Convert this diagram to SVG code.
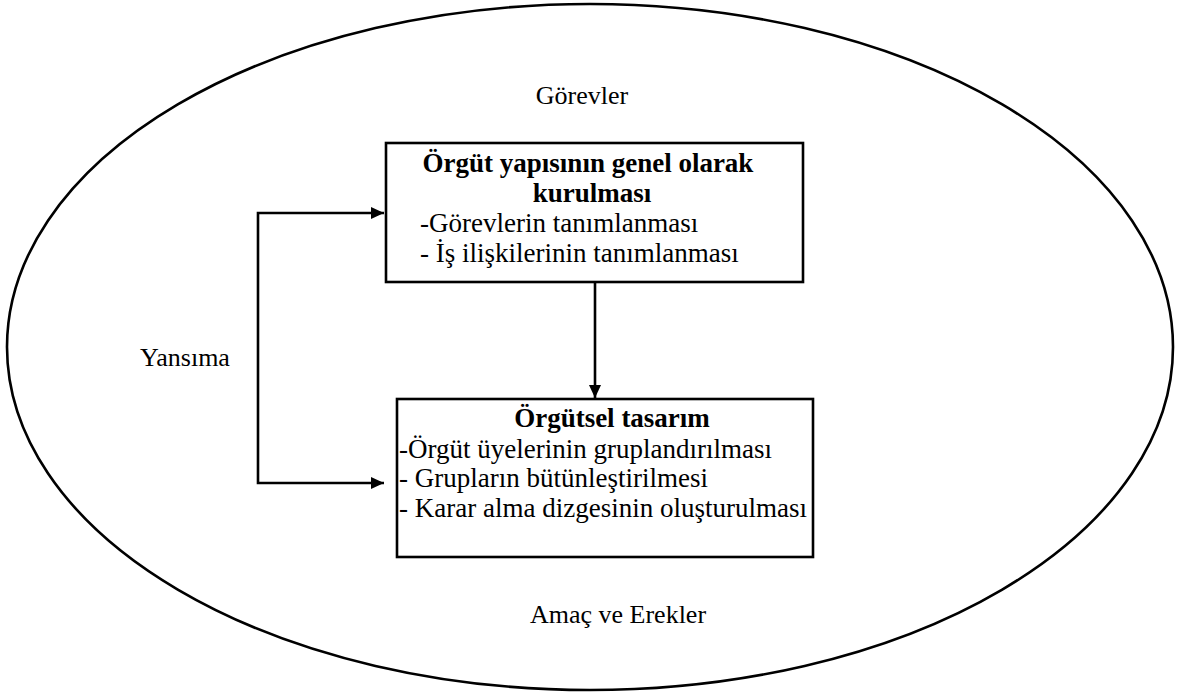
<svg xmlns="http://www.w3.org/2000/svg" width="1190" height="692" viewBox="0 0 1190 692">
  <style>
    .outline { fill: none; stroke: #000; stroke-width: 2.6; }
    .box { fill: #fff; stroke: #000; stroke-width: 2.6; }
    .conn { fill: none; stroke: #000; stroke-width: 2.6; }
    text { font-family: "Liberation Serif", "Times New Roman", serif; fill: #000; }
    .label { font-size: 26px; }
    .body { font-size: 27px; }
    .title { font-size: 27px; font-weight: bold; }
  </style>
  <defs>
    <marker id="arrow" markerUnits="userSpaceOnUse" markerWidth="14" markerHeight="12" refX="13" refY="6" orient="auto-start-reverse">
      <path d="M0,0 L13,6 L0,12 Z" fill="#000"/>
    </marker>
  </defs>

  <rect width="1190" height="692" fill="#fff"/>

  <!-- surrounding environment -->
  <g id="environment">
    <ellipse class="outline" cx="590" cy="347" rx="583" ry="343"/>
    <text class="label" x="582" y="104" text-anchor="middle">Görevler</text>
    <text class="label" x="618" y="623" text-anchor="middle">Amaç ve Erekler</text>
    <text class="label" x="185" y="366" text-anchor="middle">Yansıma</text>
  </g>

  <!-- connectors -->
  <g id="connectors">
    <path class="conn" d="M384,213 H258 V483 H384" marker-start="url(#arrow)" marker-end="url(#arrow)"/>
    <path class="conn" d="M595,282 V398" marker-end="url(#arrow)"/>
  </g>

  <!-- node: overall structure setup -->
  <g id="node-structure">
    <rect class="box" x="386" y="143" width="417" height="139"/>
    <text class="title" x="588" y="172" text-anchor="middle">Örgüt yapısının genel olarak</text>
    <text class="title" x="592" y="202" text-anchor="middle">kurulması</text>
    <text class="body" x="420" y="232">-Görevlerin tanımlanması</text>
    <text class="body" x="420" y="262">- İş ilişkilerinin tanımlanması</text>
  </g>

  <!-- node: organisational design -->
  <g id="node-design">
    <rect class="box" x="397" y="399" width="416" height="158"/>
    <text class="title" x="612" y="427" text-anchor="middle">Örgütsel tasarım</text>
    <text class="body" x="399" y="458">-Örgüt üyelerinin gruplandırılması</text>
    <text class="body" x="399" y="487">- Grupların bütünleştirilmesi</text>
    <text class="body" x="399" y="517">- Karar alma dizgesinin oluşturulması</text>
  </g>
</svg>
